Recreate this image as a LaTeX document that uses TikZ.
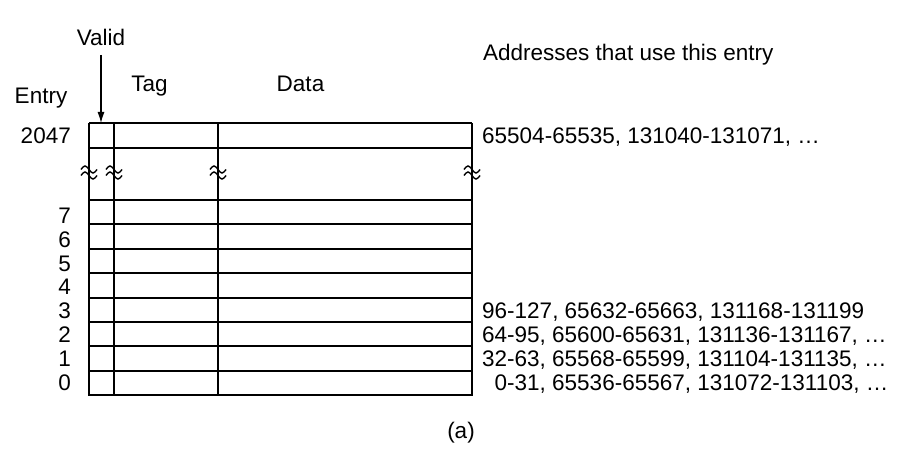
\documentclass[tikz,border=0pt]{standalone}
\usepackage{fontspec}
\setmainfont{Liberation Sans}
\usetikzlibrary{arrows.meta}
\begin{document}
\begin{tikzpicture}[x=1pt,y=-1pt,
  lbl/.style={inner sep=0pt,font=\fontsize{22.5}{27}\selectfont},
  grid/.style={line width=2pt},
  brkline/.style={line width=1.4pt},
  pics/brk/.style={code={
    \draw[brkline] (-8,-1.5) sin (-4,-5) cos (0,-1.5) sin (4,2) cos (8,-1.5);
    \draw[brkline] (-8,4.5) sin (-4,1) cos (0,4.5) sin (4,8) cos (8,4.5);
  }}]
\useasboundingbox (0,0) rectangle (912,468);
% table verticals
\foreach \x in {89,114,218,472} \draw[grid] (\x,123) -- (\x,395);
% horizontals
\foreach \y in {123,148,200,224.4,248.8,273.1,297.5,321.9,346.3,370.6} \draw[grid] (89,\y) -- (472,\y);
\draw[grid] (88,395) -- (473,395);
% breaks
\foreach \x in {89,114,218,472} \pic at (\x,171) {brk};
% headers
\node[lbl,anchor=base] (valid) at (101,46) {Valid};
\coordinate (vfrom) at (101,55);
\coordinate (vto) at (101,123);
\draw[line width=1.2pt,-{Latex[length=11pt,width=7pt]}] (vfrom) -- (vto);
\node[lbl,anchor=base] (tag) at (149.5,91.5) {Tag};
\node[lbl,anchor=base] (data) at (300.5,91.5) {Data};
\node[lbl,anchor=base] (entry) at (41,103) {Entry};
\node[lbl,anchor=base west] (addr) at (483,61) {Addresses that use this entry};
% entry numbers
\node[lbl,anchor=base east] (e2047) at (71,143) {2047};
\node[lbl,anchor=base east] (e7) at (71,223.5) {7};
\node[lbl,anchor=base east] (e6) at (71,247.3) {6};
\node[lbl,anchor=base east] (e5) at (71,271.1) {5};
\node[lbl,anchor=base east] (e4) at (71,294.9) {4};
\node[lbl,anchor=base east] (e3) at (71,318.7) {3};
\node[lbl,anchor=base east] (e2) at (71,342.5) {2};
\node[lbl,anchor=base east] (e1) at (71,366.3) {1};
\node[lbl,anchor=base east] (e0) at (71,390) {0};
% addresses
\node[lbl,anchor=base west] (a2047) at (482,143) {65504-65535, 131040-131071, \dots};
\node[lbl,anchor=base west] (a3) at (482,318.7) {96-127, 65632-65663, 131168-131199};
\node[lbl,anchor=base west] (a2) at (482,342.5) {64-95, 65600-65631, 131136-131167, \dots};
\node[lbl,anchor=base west] (a1) at (482,366.3) {32-63, 65568-65599, 131104-131135, \dots};
\node[lbl,anchor=base west] (a0) at (494.5,390) {0-31, 65536-65567, 131072-131103, \dots};
\node[lbl,anchor=base] (cap) at (461,438) {(a)};
\end{tikzpicture}
\end{document}
